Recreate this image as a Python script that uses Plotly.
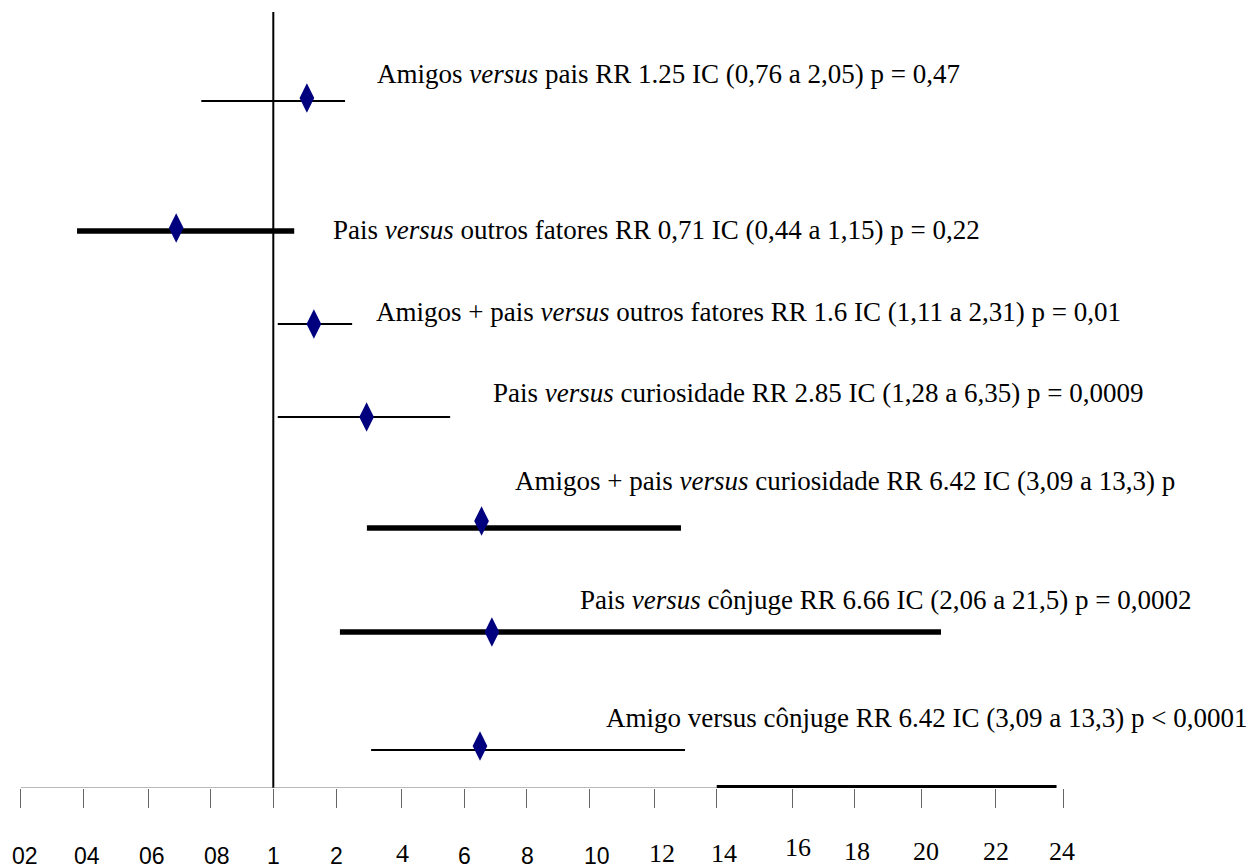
import numpy as np
import plotly.graph_objects as go

# ---------------- data ----------------
comparisons = [
    "Amigos <i>versus</i> pais RR 1.25 IC (0,76 a 2,05) p = 0,47",
    "Pais <i>versus</i> outros fatores RR 0,71 IC (0,44 a 1,15) p = 0,22",
    "Amigos + pais <i>versus</i> outros fatores RR 1.6 IC (1,11 a 2,31) p = 0,01",
    "Pais <i>versus</i> curiosidade RR 2.85 IC (1,28 a 6,35) p = 0,0009",
    "Amigos + pais <i>versus</i> curiosidade RR 6.42 IC (3,09 a 13,3) p",
    "Pais <i>versus</i> cônjuge RR 6.66 IC (2,06 a 21,5) p = 0,0002",
    "Amigo versus cônjuge RR 6.42 IC (3,09 a 13,3) p &lt; 0,0001",
]
# positions of the drawn marks, read on the chart's own (piecewise) axis
rr_drawn = [1.53, 0.69, 1.64, 2.93, 6.56, 6.89, 6.51]
ci_low = [0.77, 0.38, 1.07, 1.07, 2.94, 2.10, 3.07]
ci_high = [2.26, 1.33, 2.48, 5.56, 12.86, 20.53, 12.99]
stray_segment = [14.0, 23.8]

tick_values = [0.2, 0.4, 0.6, 0.8, 1, 2, 4, 6, 8, 10, 12, 14, 16, 18, 20, 22, 24]
tick_labels = ["02", "04", "06", "08", "1", "2", "4", "6", "8", "10",
               "12", "14", "16", "18", "20", "22", "24"]

# ---------------- layout / style ----------------
W, H = 1255, 868
AXIS_Y = 788
TICK_PX = [20.7, 83.3, 148, 210.7, 273.3, 336.7, 401, 464, 526.7, 589.3,
           654, 716.7, 792.7, 854, 921.3, 995.7, 1063.3]
TICK_LABEL_PX = [24.7, 87, 152, 217, 273, 337, 402, 464, 527, 597,
                 662, 724, 798, 857.5, 926, 995.5, 1062]
TICK_LABEL_Y = [856, 856, 856, 856, 856, 856, 853, 856, 856, 856,
                853, 853, 847, 851, 851, 851, 851]
TICK_FONT = ["sans", "sans", "sans", "sans", "sans", "sans", "serif", "sans", "sans",
             "sans", "serif", "serif", "serif", "serif", "serif", "serif", "serif"]
ROW_Y = [101, 231, 324, 417, 528, 632, 750]
DIAMOND_DY = [-3, -3, 0, 0, -7, 0, -4]
ROW_WIDTH = [2, 5.5, 2, 2, 5.5, 5.5, 2]
LABEL_X = [375, 331, 374, 491, 513, 578, 604]
LABEL_Y = [74, 230, 312, 393, 481, 600, 718]
SERIF = "Liberation Serif"
SANS = "Liberation Sans"


def scale(v):
    """Chart's piecewise axis: value -> axis coordinate."""
    return np.interp(v, tick_values, TICK_PX)


def paper_y(px):
    return 1 - px / H


fig = go.Figure()

# reference line at RR = 1
fig.add_trace(go.Scatter(x=[scale(1), scale(1)], y=[12, AXIS_Y], mode="lines",
                         line=dict(color="black", width=2), hoverinfo="skip",
                         showlegend=False))

# confidence intervals
for i in range(len(comparisons)):
    fig.add_trace(go.Scatter(x=scale([ci_low[i], ci_high[i]]), y=[ROW_Y[i], ROW_Y[i]],
                             mode="lines", line=dict(color="black", width=ROW_WIDTH[i]),
                             hoverinfo="skip", showlegend=False))

# point estimates (diamonds)
fig.add_trace(go.Scatter(x=scale(rr_drawn),
                         y=[r + d for r, d in zip(ROW_Y, DIAMOND_DY)],
                         mode="markers",
                         marker=dict(symbol="diamond-tall", size=21, color="#00007f",
                                     line=dict(width=0)),
                         hoverinfo="skip", showlegend=False))

# axis base line (thin part) and stray thick segment
fig.add_trace(go.Scatter(x=scale([tick_values[0], stray_segment[0]]), y=[AXIS_Y, AXIS_Y],
                         mode="lines", line=dict(color="#777777", width=1.2),
                         hoverinfo="skip", showlegend=False))
fig.add_trace(go.Scatter(x=scale(stray_segment), y=[AXIS_Y - 1.5, AXIS_Y - 1.5],
                         mode="lines", line=dict(color="black", width=3),
                         hoverinfo="skip", showlegend=False))

annotations = []
for i, txt in enumerate(comparisons):
    annotations.append(dict(x=LABEL_X[i] / W, y=paper_y(LABEL_Y[i]), xref="paper",
                            yref="paper", text=txt, showarrow=False,
                            xanchor="left", yanchor="middle",
                            font=dict(family=SERIF, size=27, color="black")))
for i, lab in enumerate(tick_labels):
    serif = TICK_FONT[i] == "serif"
    annotations.append(dict(x=TICK_LABEL_PX[i] / W, y=paper_y(TICK_LABEL_Y[i]),
                            xref="paper", yref="paper", text=lab, showarrow=False,
                            xanchor="center", yanchor="middle",
                            font=dict(family=SERIF if serif else SANS,
                                      size=26 if serif else 23, color="black")))

fig.update_layout(
    width=W, height=H,
    margin=dict(l=0, r=0, t=0, b=0),
    paper_bgcolor="white", plot_bgcolor="white",
    annotations=annotations,
    xaxis=dict(range=[0, W], domain=[0, 1], tickvals=TICK_PX, ticktext=tick_labels,
               showticklabels=False, ticks="outside", ticklen=19, tickwidth=1,
               tickcolor="#666666", showgrid=False, zeroline=False, showline=False,
               fixedrange=True),
    yaxis=dict(range=[AXIS_Y, 0], domain=[1 - AXIS_Y / H, 1], showticklabels=False,
               showgrid=False, zeroline=False, showline=False, ticks="", fixedrange=True),
)

fig.write_html("out.html")
